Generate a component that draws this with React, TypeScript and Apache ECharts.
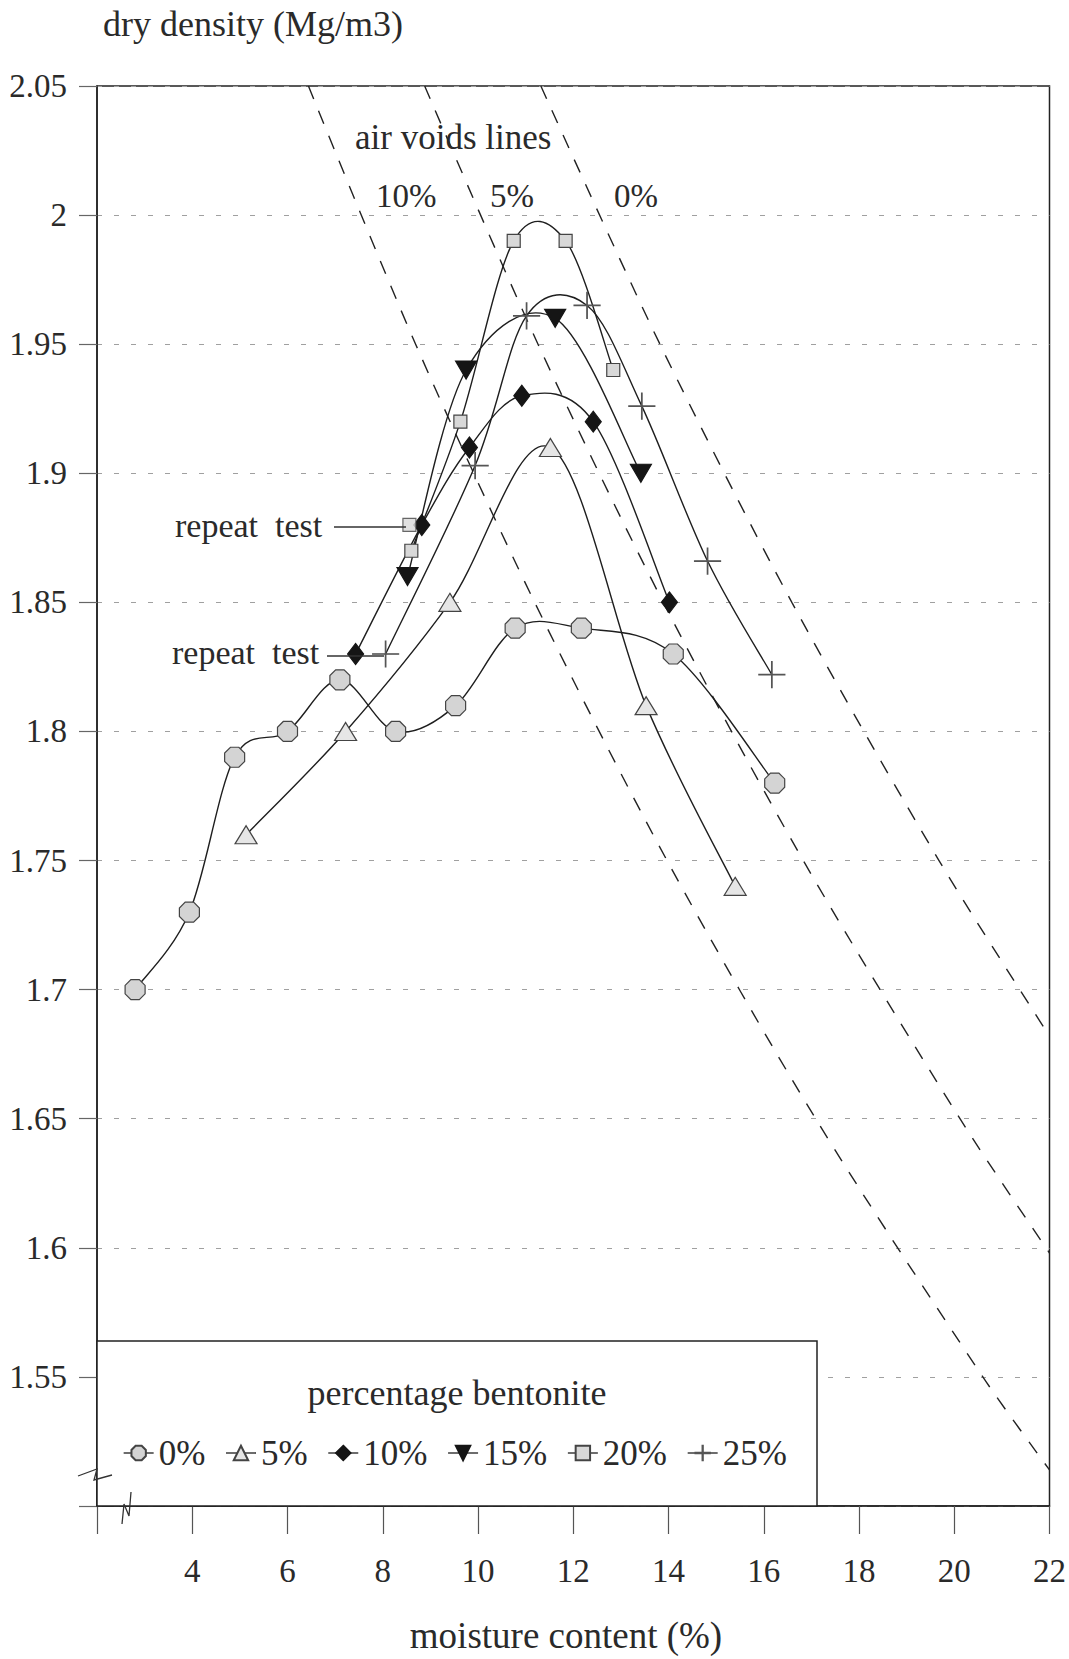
import React, { useEffect, useRef } from 'react';
import * as echarts from 'echarts';

// ---- data ----
const xTicks = [2, 4, 6, 8, 10, 12, 14, 16, 18, 20, 22];
const yTicks = [1.5, 1.55, 1.6, 1.65, 1.7, 1.75, 1.8, 1.85, 1.9, 1.95, 2, 2.05];

const legendNames = ['0%', '5%', '10%', '15%', '20%', '25%'];

const moisture0 = [2.8, 3.94, 4.89, 6.0, 7.1, 8.27, 9.53, 10.78, 12.17, 14.1, 16.23];
const density0 = [1.7, 1.73, 1.79, 1.8, 1.82, 1.8, 1.81, 1.84, 1.84, 1.83, 1.78];

const moisture5 = [5.13, 7.22, 9.41, 11.52, 13.53, 15.4];
const density5 = [1.76, 1.8, 1.85, 1.91, 1.81, 1.74];

const moisture10 = [7.43, 8.82, 9.82, 10.92, 12.42, 14.02];
const density10 = [1.83, 1.88, 1.91, 1.93, 1.92, 1.85];

const moisture15 = [8.52, 9.75, 11.62, 13.42];
const density15 = [1.86, 1.94, 1.96, 1.9];

const moisture20 = [8.6, 9.63, 10.75, 11.84, 12.84];
const density20 = [1.87, 1.92, 1.99, 1.99, 1.94];
const repeatMoisture20 = [8.56];
const repeatDensity20 = [1.88];

const moisture25 = [8.06, 9.94, 11.02, 12.29, 13.44, 14.82, 16.17];
const density25 = [1.83, 1.903, 1.961, 1.965, 1.926, 1.866, 1.822];

// air voids lines (read where they cross the gridlines / frame)
const voids10Moisture = [6.44, 8.69, 11.19, 13.97, 17.09, 20.6, 22];
const voids10Density = [2.05, 1.95, 1.85, 1.75, 1.65, 1.55, 1.514];
const voids5Moisture = [8.88, 11.26, 13.89, 16.83, 20.12, 22];
const voids5Density = [2.05, 1.95, 1.85, 1.75, 1.65, 1.598];
const voids0Moisture = [11.32, 13.82, 16.59, 19.68, 22];
const voids0Density = [2.05, 1.95, 1.85, 1.75, 1.682];

const pairs = (xs: number[], ys: number[]) => xs.map((x, i) => [x, ys[i]]);

const FONT = "'Liberation Serif', 'Times New Roman', serif";
const INK = '#2a2a2a';
const CURVE = '#1e1e1e';

const OCTAGON = 'path://M29,0 L71,0 L100,29 L100,71 L71,100 L29,100 L0,71 L0,29 Z';
const DOWN_TRI = 'path://M0,0 L100,0 L50,90 Z';
const PLUS = 'path://M49,0 L51,0 L51,49 L100,49 L100,51 L51,51 L51,100 L49,100 L49,51 L0,51 L0,49 L49,49 Z';

// markers only (their line is hidden; the curve is drawn by the spline series)
function markerSeries(name: string, xs: number[], ys: number[], symbol: string, size: any, fill: string, border: string) {
  return {
    type: 'line',
    name,
    data: pairs(xs, ys),
    symbol,
    symbolSize: size,
    showSymbol: true,
    silent: true,
    lineStyle: { color: CURVE, width: 1.4, opacity: 0 },
    itemStyle: { color: fill, borderColor: border, borderWidth: 1.2 },
    z: 5,
  };
}

// Catmull-Rom curve through the points, placed with the axes' scales
function splineSeries(xs: number[], ys: number[]) {
  const pts = pairs(xs, ys);
  const n = pts.length;
  return {
    type: 'custom',
    data: pts,
    silent: true,
    clip: true,
    z: 3,
    encode: { x: 0, y: 1 },
    renderItem: (params: any, api: any) => {
      const i = params.dataIndex;
      if (i >= n - 1) return { type: 'group', children: [] };
      const P = (k: number) => api.coord(pts[Math.max(0, Math.min(n - 1, k))]);
      const p0 = P(i - 1), p1 = P(i), p2 = P(i + 1), p3 = P(i + 2);
      const t = 1 / 6;
      return {
        type: 'bezierCurve',
        shape: {
          x1: p1[0], y1: p1[1], x2: p2[0], y2: p2[1],
          cpx1: p1[0] + (p2[0] - p0[0]) * t, cpy1: p1[1] + (p2[1] - p0[1]) * t,
          cpx2: p2[0] - (p3[0] - p1[0]) * t, cpy2: p2[1] - (p3[1] - p1[1]) * t,
        },
        style: { stroke: CURVE, lineWidth: 1.4, fill: 'none' },
      };
    },
  };
}

function voidsSeries(xs: number[], ys: number[]) {
  return {
    type: 'line',
    data: pairs(xs, ys),
    smooth: 0.3,
    symbol: 'none',
    silent: true,
    lineStyle: { color: '#222', width: 1.4, type: [14, 13] },
    z: 2,
  };
}

const txt = (x: number, y: number, text: string, size: number, align = 'left') => ({
  type: 'text',
  z: 9,
  x,
  y,
  style: { text, font: `${size}px ${FONT}`, fill: INK, align, verticalAlign: 'middle' },
});

export default function App() {
  const ref = useRef<HTMLDivElement>(null);
  useEffect(() => {
    document.body.style.margin = '0';
    const chart = echarts.init(ref.current!, null, { renderer: 'svg' });
    const option: any = {
      animation: false,
      backgroundColor: '#ffffff',
      grid: {
        left: 97,
        top: 86,
        width: 956,
        height: 1420,
        show: true,
        borderColor: '#222',
        borderWidth: 1.5,
        backgroundColor: 'transparent',
      },
      xAxis: {
        type: 'value',
        min: xTicks[0],
        max: xTicks[xTicks.length - 1],
        interval: 2,
        axisLine: { show: true, lineStyle: { color: '#222', width: 1.5 } },
        axisTick: { show: true, inside: false, length: 28, lineStyle: { color: '#555', width: 1.2 } },
        axisLabel: {
          margin: 48,
          fontFamily: FONT,
          fontSize: 33,
          color: INK,
          formatter: (v: number) => (Math.abs(v - xTicks[0]) < 1e-9 ? '' : String(v)),
        },
        splitLine: { show: false },
      },
      yAxis: {
        type: 'value',
        min: yTicks[0],
        max: yTicks[yTicks.length - 1],
        interval: 0.05,
        axisLine: { show: true, lineStyle: { color: '#222', width: 1.5 } },
        axisTick: { show: true, inside: false, length: 18, lineStyle: { color: '#666', width: 1.2 } },
        axisLabel: {
          margin: 30,
          fontFamily: FONT,
          fontSize: 33,
          color: INK,
          formatter: (v: number) => (Math.abs(v - yTicks[0]) < 1e-9 ? '' : String(parseFloat(v.toFixed(2)))),
        },
        splitLine: { show: true, lineStyle: { color: '#a0a0a0', width: 1, type: [5, 12] } },
      },
      legend: {
        data: legendNames,
        left: 118,
        top: 1430,
        itemGap: 20,
        itemWidth: 30,
        itemHeight: 18,
        z: 10,
        selectedMode: false,
        lineStyle: { color: CURVE, width: 1.3, opacity: 1, type: 'solid' },
        textStyle: { fontFamily: FONT, fontSize: 35, color: INK, lineHeight: 36 },
      },
      graphic: [
        {
          type: 'rect',
          z: 8,
          shape: { x: 97, y: 1341, width: 720, height: 165 },
          style: { fill: '#ffffff', stroke: '#222', lineWidth: 1.5 },
        },
        txt(457, 1393, 'percentage bentonite', 36, 'center'),
        txt(103, 24, 'dry density (Mg/m3)', 36),
        txt(566, 1635, 'moisture content (%)', 37, 'center'),
        txt(355, 137, 'air voids lines', 35),
        txt(376, 196, '10%', 33),
        txt(490, 196, '5%', 33),
        txt(614, 196, '0%', 33),
        txt(175, 525, 'repeat  test', 34),
        {
          type: 'line',
          z: 9,
          shape: { x1: 334, y1: 527, x2: 406, y2: 527 },
          style: { stroke: '#333', lineWidth: 1.3 },
        },
        txt(172, 652, 'repeat  test', 34),
        {
          type: 'line',
          z: 9,
          shape: { x1: 327, y1: 656, x2: 384, y2: 656 },
          style: { stroke: '#333', lineWidth: 1.5 },
        },
        {
          type: 'polyline',
          z: 9,
          shape: { points: [[78, 1476], [97, 1469], [94, 1480], [112, 1475]] },
          style: { stroke: '#333', lineWidth: 1.3, fill: 'none' },
        },
        {
          type: 'polyline',
          z: 9,
          shape: { points: [[122, 1524], [124, 1504], [129, 1516], [131, 1492]] },
          style: { stroke: '#333', lineWidth: 1.3, fill: 'none' },
        },
      ],
      series: [
        voidsSeries(voids10Moisture, voids10Density),
        voidsSeries(voids5Moisture, voids5Density),
        voidsSeries(voids0Moisture, voids0Density),
        splineSeries(moisture0, density0),
        splineSeries(moisture5, density5),
        splineSeries(moisture10, density10),
        splineSeries(moisture15, density15),
        splineSeries(moisture20, density20),
        splineSeries(moisture25, density25),
        markerSeries('0%', moisture0, density0, OCTAGON, 20, '#d4d4d4', '#444'),
        markerSeries('5%', moisture5, density5, 'triangle', [22, 18], '#e6e6e6', '#444'),
        markerSeries('10%', moisture10, density10, 'diamond', [16, 21], '#151515', '#151515'),
        markerSeries('15%', moisture15, density15, DOWN_TRI, [21, 18], '#151515', '#151515'),
        markerSeries('20%', moisture20, density20, 'rect', 13, '#d8d8d8', '#444'),
        {
          type: 'scatter',
          data: pairs(repeatMoisture20, repeatDensity20),
          symbol: 'rect',
          symbolSize: 13,
          silent: true,
          itemStyle: { color: '#d8d8d8', borderColor: '#444', borderWidth: 1.2 },
          z: 5,
        },
        markerSeries('25%', moisture25, density25, PLUS, 26, '#555', '#555'),
      ],
    };
    chart.setOption(option);
    return () => chart.dispose();
  }, []);
  return <div ref={ref} style={{ width: 1069, height: 1659 }} />;
}
